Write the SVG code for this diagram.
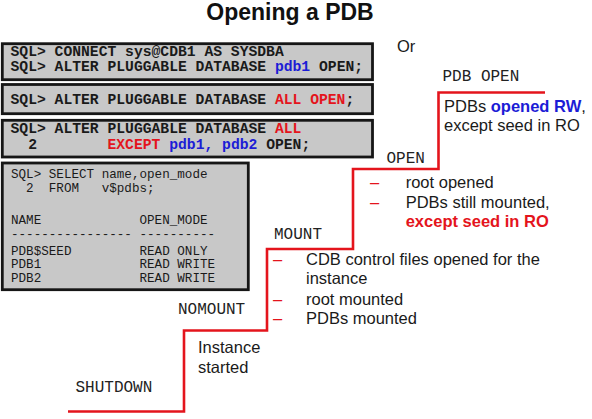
<svg xmlns="http://www.w3.org/2000/svg" width="592" height="419" viewBox="0 0 592 419">
<style>
.bg{fill:#ffffff}
.box{fill:#c8c8c8;stroke:#161616;stroke-width:2.8}
.sql{font-family:"Liberation Mono","Courier New",monospace;font-weight:bold;font-size:14.7px;fill:#1a1a1a}
.q{font-family:"Liberation Mono","Courier New",monospace;font-size:12.6px;fill:#1a1a1a}
.lbl{font-family:"Liberation Mono","Courier New",monospace;font-size:16px;fill:#222}
.txt{font-family:"Liberation Sans",Arial,sans-serif;font-size:16.5px;fill:#1a1a1a}
.title{font-family:"Liberation Sans",Arial,sans-serif;font-size:23px;font-weight:bold;fill:#111}
.blue{fill:#1c1cd6}
.red{fill:#e4141c}
.b{font-weight:bold}
.dash{font-family:"Liberation Sans",Arial,sans-serif;font-size:16.5px;fill:#e4141c}
.stair{fill:none;stroke:#e4141c;stroke-width:2.6}
</style>
<rect class="bg" x="0" y="0" width="592" height="419"/>
<text class="title" x="290" y="20" text-anchor="middle">Opening a PDB</text>
<text class="txt" x="397" y="52">Or</text>

<g id="box1">
<rect class="box" x="2.3" y="43.7" width="370.2" height="36"/>
<text class="sql" x="10.5" y="55.7" xml:space="preserve">SQL&gt; CONNECT sys@CDB1 AS SYSDBA</text>
<text class="sql" x="10.5" y="70.5" xml:space="preserve">SQL&gt; ALTER PLUGGABLE DATABASE <tspan class="blue">pdb1</tspan> OPEN;</text>
</g>
<g id="box2">
<rect class="box" x="2.3" y="84.5" width="370.2" height="29.2"/>
<text class="sql" x="10.5" y="103.7" xml:space="preserve">SQL&gt; ALTER PLUGGABLE DATABASE <tspan class="red">ALL OPEN</tspan>;</text>
</g>
<g id="box3">
<rect class="box" x="2.3" y="120.3" width="370.2" height="36.7"/>
<text class="sql" x="10.5" y="133.3" xml:space="preserve">SQL&gt; ALTER PLUGGABLE DATABASE <tspan class="red">ALL</tspan></text>
<text class="sql" x="10.5" y="148.8" xml:space="preserve">  2        <tspan class="red">EXCEPT</tspan> <tspan class="blue">pdb1, pdb2</tspan> OPEN;</text>
</g>
<g id="box4">
<rect class="box" x="2.3" y="163" width="246" height="126.7"/>
<text class="q" x="11" y="178" xml:space="preserve">SQL&gt; SELECT name,open_mode</text>
<text class="q" x="11" y="191.5" xml:space="preserve">  2  FROM   v$pdbs;</text>
<text class="q" x="11" y="223.5" xml:space="preserve">NAME             OPEN_MODE</text>
<text class="q" x="11" y="237.5" xml:space="preserve">---------------- ----------</text>
<text class="q" x="11" y="254.5" xml:space="preserve">PDB$SEED         READ ONLY</text>
<text class="q" x="11" y="268.2" xml:space="preserve">PDB1             READ WRITE</text>
<text class="q" x="11" y="282" xml:space="preserve">PDB2             READ WRITE</text>
</g>

<g id="connectors">
<path class="stair" d="M68,411.5 H184 V330.5 H267 V249 H353 V169 H438.5 V92.5 H545"/>
</g>

<g id="shutdown">
<text class="lbl" x="75.5" y="391.5">SHUTDOWN</text>
</g>
<g id="nomount">
<text class="lbl" x="178" y="314">NOMOUNT</text>
<text class="txt" x="198" y="353.3">Instance</text>
<text class="txt" x="198" y="372.7">started</text>
</g>
<g id="mount">
<text class="lbl" x="274" y="239">MOUNT</text>
<text class="dash" x="273" y="265">–</text>
<text class="txt" x="306" y="265">CDB control files opened for the</text>
<text class="txt" x="306" y="284.3">instance</text>
<text class="dash" x="273" y="305">–</text>
<text class="txt" x="306" y="305">root mounted</text>
<text class="dash" x="273" y="324.3">–</text>
<text class="txt" x="306" y="324.3">PDBs mounted</text>
</g>
<g id="open">
<text class="lbl" x="386.5" y="163.3">OPEN</text>
<text class="dash" x="370" y="187.7">–</text>
<text class="txt" x="405.7" y="187.7">root opened</text>
<text class="dash" x="370" y="207.7">–</text>
<text class="txt" x="405.7" y="207.7">PDBs still mounted,</text>
<text class="txt red b" x="405.7" y="226.7">except seed in RO</text>
</g>
<g id="pdbopen">
<text class="lbl" x="442.5" y="80.7">PDB OPEN</text>
<text class="txt" x="444" y="111.5">PDBs <tspan class="blue b">opened RW</tspan>,</text>
<text class="txt" x="444" y="130.5">except seed in RO</text>
</g>
</svg>
